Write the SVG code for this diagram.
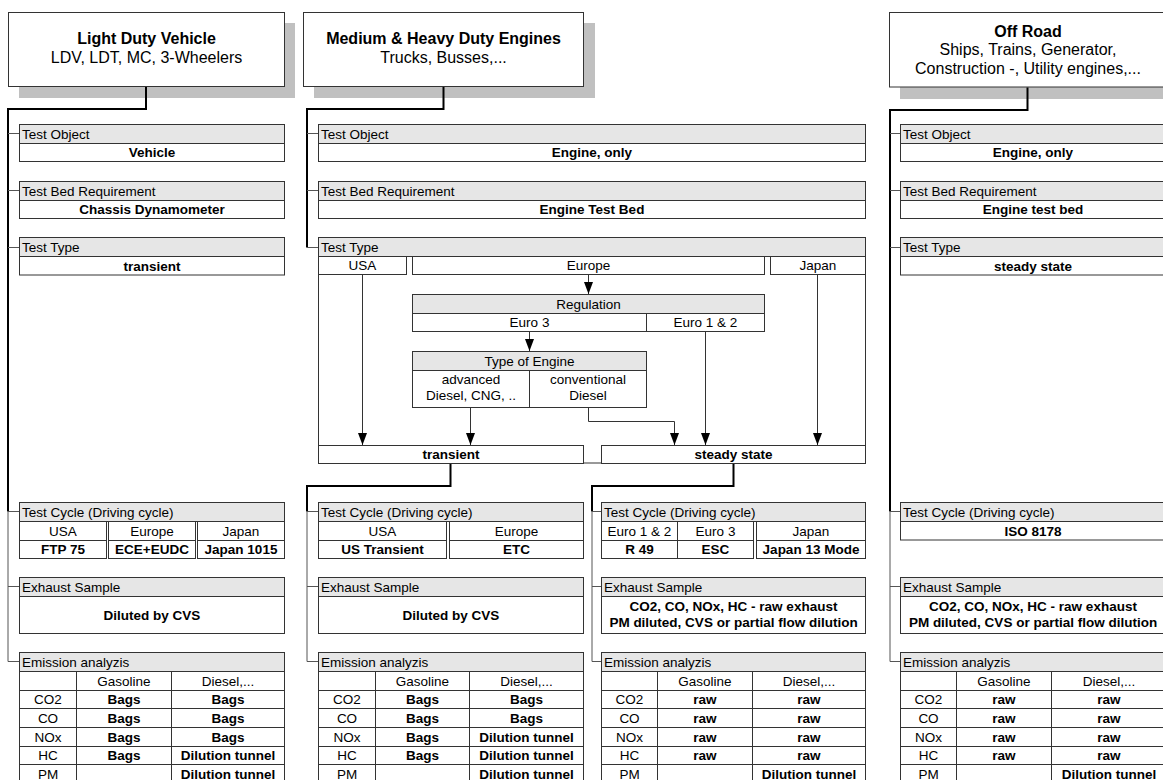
<svg xmlns="http://www.w3.org/2000/svg" width="1163" height="780" viewBox="0 0 1163 780">
<style>
.bg{fill:#fff}
.sh{fill:#c0c0c0}
.hb{fill:#fff;stroke:#333;stroke-width:1}
.hd{fill:#e6e6e6;stroke:#333;stroke-width:1}
.bx{fill:#fff;stroke:#333;stroke-width:1}
.ln{fill:none;stroke:#333;stroke-width:1}
.t{font-family:"Liberation Sans",Arial,Helvetica,sans-serif;font-size:13.5px;fill:#000}
.b{font-weight:bold}
.m{text-anchor:middle}
.ttl{font-size:16px}
.thick{fill:none;stroke:#000;stroke-width:2}
.thin{fill:none;stroke:#555;stroke-width:1}
.arr{fill:none;stroke:#333;stroke-width:1;marker-end:url(#ah)}
</style>
<defs>
<marker id="ah" markerUnits="userSpaceOnUse" markerWidth="12" markerHeight="9" viewBox="0 0 12 9" refX="12" refY="4.5" orient="auto">
<path d="M0,0 L12,4.5 L0,9 Z" fill="#000"/>
</marker>
</defs>
<rect class="bg" x="0" y="0" width="1163" height="780"/>

<!-- ===== Light Duty Vehicle column ===== -->
<g id="ldv-header">
<rect class="sh" x="19" y="23" width="276" height="75"/>
<rect class="hb" x="8.5" y="12.5" width="276" height="74"/>
<text class="t b m ttl" x="146.5" y="44">Light Duty Vehicle</text>
<text class="t m ttl" x="146.5" y="63">LDV, LDT, MC, 3-Wheelers</text>
</g>
<g id="ldv-test-object">
<rect class="hd" x="19.5" y="124.5" width="265" height="19"/>
<rect class="bx" x="19.5" y="143.5" width="265" height="18"/>
<text class="t" x="22" y="138.5">Test Object</text>
<text class="t b m" x="152" y="157">Vehicle</text>
</g>
<g id="ldv-test-bed">
<rect class="hd" x="19.5" y="181.5" width="265" height="19"/>
<rect class="bx" x="19.5" y="200.5" width="265" height="18"/>
<text class="t" x="22" y="195.5">Test Bed Requirement</text>
<text class="t b m" x="152" y="214">Chassis Dynamometer</text>
</g>
<g id="ldv-test-type">
<rect class="hd" x="19.5" y="237.5" width="265" height="19"/>
<rect class="bx" x="19.5" y="256.5" width="265" height="18.5"/>
<text class="t" x="22" y="251.5">Test Type</text>
<text class="t b m" x="152" y="270.5">transient</text>
</g>
<g id="ldv-test-cycle">
<rect class="hd" x="19.5" y="502.5" width="265" height="19"/>
<rect class="bx" x="19.5" y="521.5" width="87" height="19"/>
<rect class="bx" x="19.5" y="540.5" width="87" height="18"/>
<rect class="bx" x="108.5" y="521.5" width="87" height="19"/>
<rect class="bx" x="108.5" y="540.5" width="87" height="18"/>
<rect class="bx" x="197.5" y="521.5" width="87" height="19"/>
<rect class="bx" x="197.5" y="540.5" width="87" height="18"/>
<text class="t" x="22" y="516.5">Test Cycle (Driving cycle)</text>
<text class="t m" x="63" y="535.5">USA</text>
<text class="t b m" x="63" y="554">FTP 75</text>
<text class="t m" x="152" y="535.5">Europe</text>
<text class="t b m" x="152" y="554">ECE+EUDC</text>
<text class="t m" x="241" y="535.5">Japan</text>
<text class="t b m" x="241" y="554">Japan 1015</text>
</g>
<g id="ldv-exhaust">
<rect class="hd" x="19.5" y="577.5" width="265" height="19"/>
<rect class="bx" x="19.5" y="596.5" width="265" height="37"/>
<text class="t" x="22" y="591.5">Exhaust Sample</text>
<text class="t b m" x="152" y="619.5">Diluted by CVS</text>
</g>
<g id="ldv-emission">
<rect class="hd" x="19.5" y="652.5" width="265" height="19"/>
<rect class="bx" x="19.5" y="671.5" width="265" height="112"/>
<path class="ln" d="M19.5,690.5 H284.5 M19.5,708.5 H284.5 M19.5,727.5 H284.5 M19.5,746.5 H284.5 M19.5,764.5 H284.5 M76.5,671.5 V784 M171.5,671.5 V784"/>
<text class="t" x="22" y="666.5">Emission analyzis</text>
<text class="t m" x="124" y="685.5">Gasoline</text>
<text class="t m" x="228" y="685.5">Diesel,...</text>
<text class="t m" x="48" y="704">CO2</text><text class="t b m" x="124" y="704">Bags</text><text class="t b m" x="228" y="704">Bags</text>
<text class="t m" x="48" y="722.5">CO</text><text class="t b m" x="124" y="722.5">Bags</text><text class="t b m" x="228" y="722.5">Bags</text>
<text class="t m" x="48" y="741.5">NOx</text><text class="t b m" x="124" y="741.5">Bags</text><text class="t b m" x="228" y="741.5">Bags</text>
<text class="t m" x="48" y="760">HC</text><text class="t b m" x="124" y="760">Bags</text><text class="t b m" x="228" y="760">Dilution tunnel</text>
<text class="t m" x="48" y="778.5">PM</text><text class="t b m" x="228" y="778.5">Dilution tunnel</text>
</g>

<!-- ===== Medium & Heavy Duty column ===== -->
<g id="mhd-header">
<rect class="sh" x="314" y="23" width="281" height="75"/>
<rect class="hb" x="303.5" y="12.5" width="280" height="74"/>
<text class="t b m ttl" x="443.5" y="44">Medium &amp; Heavy Duty Engines</text>
<text class="t m ttl" x="443.5" y="63">Trucks, Busses,...</text>
</g>
<g id="mhd-test-object">
<rect class="hd" x="318.5" y="124.5" width="547" height="19"/>
<rect class="bx" x="318.5" y="143.5" width="547" height="18"/>
<text class="t" x="321" y="138.5">Test Object</text>
<text class="t b m" x="592" y="157">Engine, only</text>
</g>
<g id="mhd-test-bed">
<rect class="hd" x="318.5" y="181.5" width="547" height="19"/>
<rect class="bx" x="318.5" y="200.5" width="547" height="18"/>
<text class="t" x="321" y="195.5">Test Bed Requirement</text>
<text class="t b m" x="592" y="214">Engine Test Bed</text>
</g>
<g id="mhd-test-type">
<rect class="bx" x="318.5" y="237.5" width="547" height="225.5"/>
<rect class="hd" x="318.5" y="237.5" width="547" height="19"/>
<text class="t" x="321" y="251.5">Test Type</text>
<rect class="bx" x="318.5" y="256.5" width="88" height="18"/>
<rect class="bx" x="412.5" y="256.5" width="352" height="18"/>
<rect class="bx" x="770.5" y="256.5" width="95" height="18"/>
<text class="t m" x="362.5" y="270">USA</text>
<text class="t m" x="588.5" y="270">Europe</text>
<text class="t m" x="818" y="270">Japan</text>
</g>
<g id="mhd-regulation">
<rect class="hd" x="412.5" y="294.5" width="352" height="19"/>
<rect class="bx" x="412.5" y="313.5" width="234" height="18"/>
<rect class="bx" x="646.5" y="313.5" width="118" height="18"/>
<text class="t m" x="588.5" y="308.5">Regulation</text>
<text class="t m" x="529.5" y="327">Euro 3</text>
<text class="t m" x="705.5" y="327">Euro 1 &amp; 2</text>
</g>
<g id="mhd-engine-type">
<rect class="hd" x="412.5" y="351.5" width="234" height="19"/>
<rect class="bx" x="412.5" y="370.5" width="117" height="37"/>
<rect class="bx" x="529.5" y="370.5" width="117" height="37"/>
<text class="t m" x="529.5" y="365.5">Type of Engine</text>
<text class="t m" x="471" y="384">advanced</text>
<text class="t m" x="471" y="400">Diesel, CNG, ..</text>
<text class="t m" x="588" y="384">conventional</text>
<text class="t m" x="588" y="400">Diesel</text>
</g>
<g id="mhd-transient">
<rect class="bx" x="318.5" y="445.5" width="265" height="18"/>
<text class="t b m" x="451" y="459">transient</text>
</g>
<g id="mhd-steady">
<rect class="bx" x="601.5" y="445.5" width="264" height="18"/>
<text class="t b m" x="733.5" y="459">steady state</text>
</g>

<!-- transient branch -->
<g id="tr-test-cycle">
<rect class="hd" x="318.5" y="502.5" width="265" height="19"/>
<rect class="bx" x="318.5" y="521.5" width="128" height="19"/>
<rect class="bx" x="318.5" y="540.5" width="128" height="18"/>
<rect class="bx" x="449.5" y="521.5" width="134" height="19"/>
<rect class="bx" x="449.5" y="540.5" width="134" height="18"/>
<text class="t" x="321" y="516.5">Test Cycle (Driving cycle)</text>
<text class="t m" x="382.5" y="535.5">USA</text>
<text class="t b m" x="382.5" y="554">US Transient</text>
<text class="t m" x="516.5" y="535.5">Europe</text>
<text class="t b m" x="516.5" y="554">ETC</text>
</g>
<g id="tr-exhaust">
<rect class="hd" x="318.5" y="577.5" width="265" height="19"/>
<rect class="bx" x="318.5" y="596.5" width="265" height="37"/>
<text class="t" x="321" y="591.5">Exhaust Sample</text>
<text class="t b m" x="451" y="619.5">Diluted by CVS</text>
</g>
<g id="tr-emission">
<rect class="hd" x="318.5" y="652.5" width="265" height="19"/>
<rect class="bx" x="318.5" y="671.5" width="265" height="112"/>
<path class="ln" d="M318.5,690.5 H583.5 M318.5,708.5 H583.5 M318.5,727.5 H583.5 M318.5,746.5 H583.5 M318.5,764.5 H583.5 M375.5,671.5 V784 M469.5,671.5 V784"/>
<text class="t" x="321" y="666.5">Emission analyzis</text>
<text class="t m" x="422.5" y="685.5">Gasoline</text>
<text class="t m" x="526.5" y="685.5">Diesel,...</text>
<text class="t m" x="347" y="704">CO2</text><text class="t b m" x="422.5" y="704">Bags</text><text class="t b m" x="526.5" y="704">Bags</text>
<text class="t m" x="347" y="722.5">CO</text><text class="t b m" x="422.5" y="722.5">Bags</text><text class="t b m" x="526.5" y="722.5">Bags</text>
<text class="t m" x="347" y="741.5">NOx</text><text class="t b m" x="422.5" y="741.5">Bags</text><text class="t b m" x="526.5" y="741.5">Dilution tunnel</text>
<text class="t m" x="347" y="760">HC</text><text class="t b m" x="422.5" y="760">Bags</text><text class="t b m" x="526.5" y="760">Dilution tunnel</text>
<text class="t m" x="347" y="778.5">PM</text><text class="t b m" x="526.5" y="778.5">Dilution tunnel</text>
</g>

<!-- steady state branch -->
<g id="ss-test-cycle">
<rect class="hd" x="601.5" y="502.5" width="264" height="19"/>
<rect class="bx" x="601.5" y="521.5" width="76" height="19"/>
<rect class="bx" x="601.5" y="540.5" width="76" height="18"/>
<rect class="bx" x="677.5" y="521.5" width="76" height="19"/>
<rect class="bx" x="677.5" y="540.5" width="76" height="18"/>
<rect class="bx" x="756.5" y="521.5" width="109" height="19"/>
<rect class="bx" x="756.5" y="540.5" width="109" height="18"/>
<text class="t" x="604" y="516.5">Test Cycle (Driving cycle)</text>
<text class="t m" x="639.5" y="535.5">Euro 1 &amp; 2</text>
<text class="t b m" x="639.5" y="554">R 49</text>
<text class="t m" x="715.5" y="535.5">Euro 3</text>
<text class="t b m" x="715.5" y="554">ESC</text>
<text class="t m" x="811" y="535.5">Japan</text>
<text class="t b m" x="811" y="554">Japan 13 Mode</text>
</g>
<g id="ss-exhaust">
<rect class="hd" x="601.5" y="577.5" width="264" height="19"/>
<rect class="bx" x="601.5" y="596.5" width="264" height="37"/>
<text class="t" x="604" y="591.5">Exhaust Sample</text>
<text class="t b m" x="733.5" y="611">CO2, CO, NOx, HC - raw exhaust</text>
<text class="t b m" x="733.5" y="626.5">PM diluted, CVS or partial flow dilution</text>
</g>
<g id="ss-emission">
<rect class="hd" x="601.5" y="652.5" width="264" height="19"/>
<rect class="bx" x="601.5" y="671.5" width="264" height="112"/>
<path class="ln" d="M601.5,690.5 H865.5 M601.5,708.5 H865.5 M601.5,727.5 H865.5 M601.5,746.5 H865.5 M601.5,764.5 H865.5 M657.5,671.5 V784 M752.5,671.5 V784"/>
<text class="t" x="604" y="666.5">Emission analyzis</text>
<text class="t m" x="705" y="685.5">Gasoline</text>
<text class="t m" x="809" y="685.5">Diesel,...</text>
<text class="t m" x="629.5" y="704">CO2</text><text class="t b m" x="705" y="704">raw</text><text class="t b m" x="809" y="704">raw</text>
<text class="t m" x="629.5" y="722.5">CO</text><text class="t b m" x="705" y="722.5">raw</text><text class="t b m" x="809" y="722.5">raw</text>
<text class="t m" x="629.5" y="741.5">NOx</text><text class="t b m" x="705" y="741.5">raw</text><text class="t b m" x="809" y="741.5">raw</text>
<text class="t m" x="629.5" y="760">HC</text><text class="t b m" x="705" y="760">raw</text><text class="t b m" x="809" y="760">raw</text>
<text class="t m" x="629.5" y="778.5">PM</text><text class="t b m" x="809" y="778.5">Dilution tunnel</text>
</g>

<!-- ===== Off Road column ===== -->
<g id="off-header">
<rect class="sh" x="900" y="23" width="280" height="76"/>
<rect class="hb" x="889.5" y="12.5" width="277" height="74.5"/>
<text class="t b m ttl" x="1028" y="36.5">Off Road</text>
<text class="t m ttl" x="1028" y="55">Ships, Trains, Generator,</text>
<text class="t m ttl" x="1028" y="73.5">Construction -, Utility engines,...</text>
</g>
<g id="off-test-object">
<rect class="hd" x="900.5" y="124.5" width="266" height="19"/>
<rect class="bx" x="900.5" y="143.5" width="266" height="18"/>
<text class="t" x="903" y="138.5">Test Object</text>
<text class="t b m" x="1033" y="157">Engine, only</text>
</g>
<g id="off-test-bed">
<rect class="hd" x="900.5" y="181.5" width="266" height="19"/>
<rect class="bx" x="900.5" y="200.5" width="266" height="18"/>
<text class="t" x="903" y="195.5">Test Bed Requirement</text>
<text class="t b m" x="1033" y="214">Engine test bed</text>
</g>
<g id="off-test-type">
<rect class="hd" x="900.5" y="237.5" width="266" height="19"/>
<rect class="bx" x="900.5" y="256.5" width="266" height="18.5"/>
<text class="t" x="903" y="251.5">Test Type</text>
<text class="t b m" x="1033" y="270.5">steady state</text>
</g>
<g id="off-test-cycle">
<rect class="hd" x="900.5" y="502.5" width="266" height="19"/>
<rect class="bx" x="900.5" y="521.5" width="266" height="18.5"/>
<text class="t" x="903" y="516.5">Test Cycle (Driving cycle)</text>
<text class="t b m" x="1033" y="535.5">ISO 8178</text>
</g>
<g id="off-exhaust">
<rect class="hd" x="900.5" y="577.5" width="266" height="19"/>
<rect class="bx" x="900.5" y="596.5" width="266" height="37"/>
<text class="t" x="903" y="591.5">Exhaust Sample</text>
<text class="t b m" x="1033" y="611">CO2, CO, NOx, HC - raw exhaust</text>
<text class="t b m" x="1033" y="626.5">PM diluted, CVS or partial flow dilution</text>
</g>
<g id="off-emission">
<rect class="hd" x="900.5" y="652.5" width="266" height="19"/>
<rect class="bx" x="900.5" y="671.5" width="266" height="112"/>
<path class="ln" d="M900.5,690.5 H1166 M900.5,708.5 H1166 M900.5,727.5 H1166 M900.5,746.5 H1166 M900.5,764.5 H1166 M956.5,671.5 V784 M1051.5,671.5 V784"/>
<text class="t" x="903" y="666.5">Emission analyzis</text>
<text class="t m" x="1004" y="685.5">Gasoline</text>
<text class="t m" x="1109" y="685.5">Diesel,...</text>
<text class="t m" x="928.5" y="704">CO2</text><text class="t b m" x="1004" y="704">raw</text><text class="t b m" x="1109" y="704">raw</text>
<text class="t m" x="928.5" y="722.5">CO</text><text class="t b m" x="1004" y="722.5">raw</text><text class="t b m" x="1109" y="722.5">raw</text>
<text class="t m" x="928.5" y="741.5">NOx</text><text class="t b m" x="1004" y="741.5">raw</text><text class="t b m" x="1109" y="741.5">raw</text>
<text class="t m" x="928.5" y="760">HC</text><text class="t b m" x="1004" y="760">raw</text><text class="t b m" x="1109" y="760">raw</text>
<text class="t m" x="928.5" y="778.5">PM</text><text class="t b m" x="1109" y="778.5">Dilution tunnel</text>
</g>

<!-- ===== Connectors ===== -->
<g id="connectors">
<path class="thick" d="M146,87 V109 H8 V511.5"/>
<path class="thin" d="M8,133.5 H19 M8,190.5 H19 M8,247.5 H19 M8,511.5 H19 M8,511.5 V661.5 H19 M8,586.5 H19"/>
<path class="thick" d="M443.5,87 V109 H307 V247.5"/>
<path class="thin" d="M307,133.5 H318 M307,190.5 H318 M307,247.5 H318"/>
<path class="thick" d="M450.5,464 V486 H307 V511.5"/>
<path class="thin" d="M307,511.5 H318 M307,511.5 V661.5 H318 M307,586.5 H318"/>
<path class="thick" d="M733.5,464 V486 H592 V511.5"/>
<path class="thin" d="M592,511.5 H601 M592,511.5 V661.5 H601 M592,586.5 H601"/>
<path class="thick" d="M1027.5,87.5 V110 H890 V511.5"/>
<path class="thin" d="M890,133.5 H900 M890,190.5 H900 M890,247.5 H900 M890,511.5 H900 M890,511.5 V661.5 H900 M890,586.5 H900"/>
<path class="arr" d="M588.5,275 V294"/>
<path class="arr" d="M529.5,332 V351"/>
<path class="arr" d="M362.5,275 V445"/>
<path class="arr" d="M817.5,275 V445"/>
<path class="arr" d="M470.5,408 V445"/>
<path class="arr" d="M588.5,408 V421.5 H674.5 V445"/>
<path class="arr" d="M705.5,332 V445"/>
</g>
</svg>
